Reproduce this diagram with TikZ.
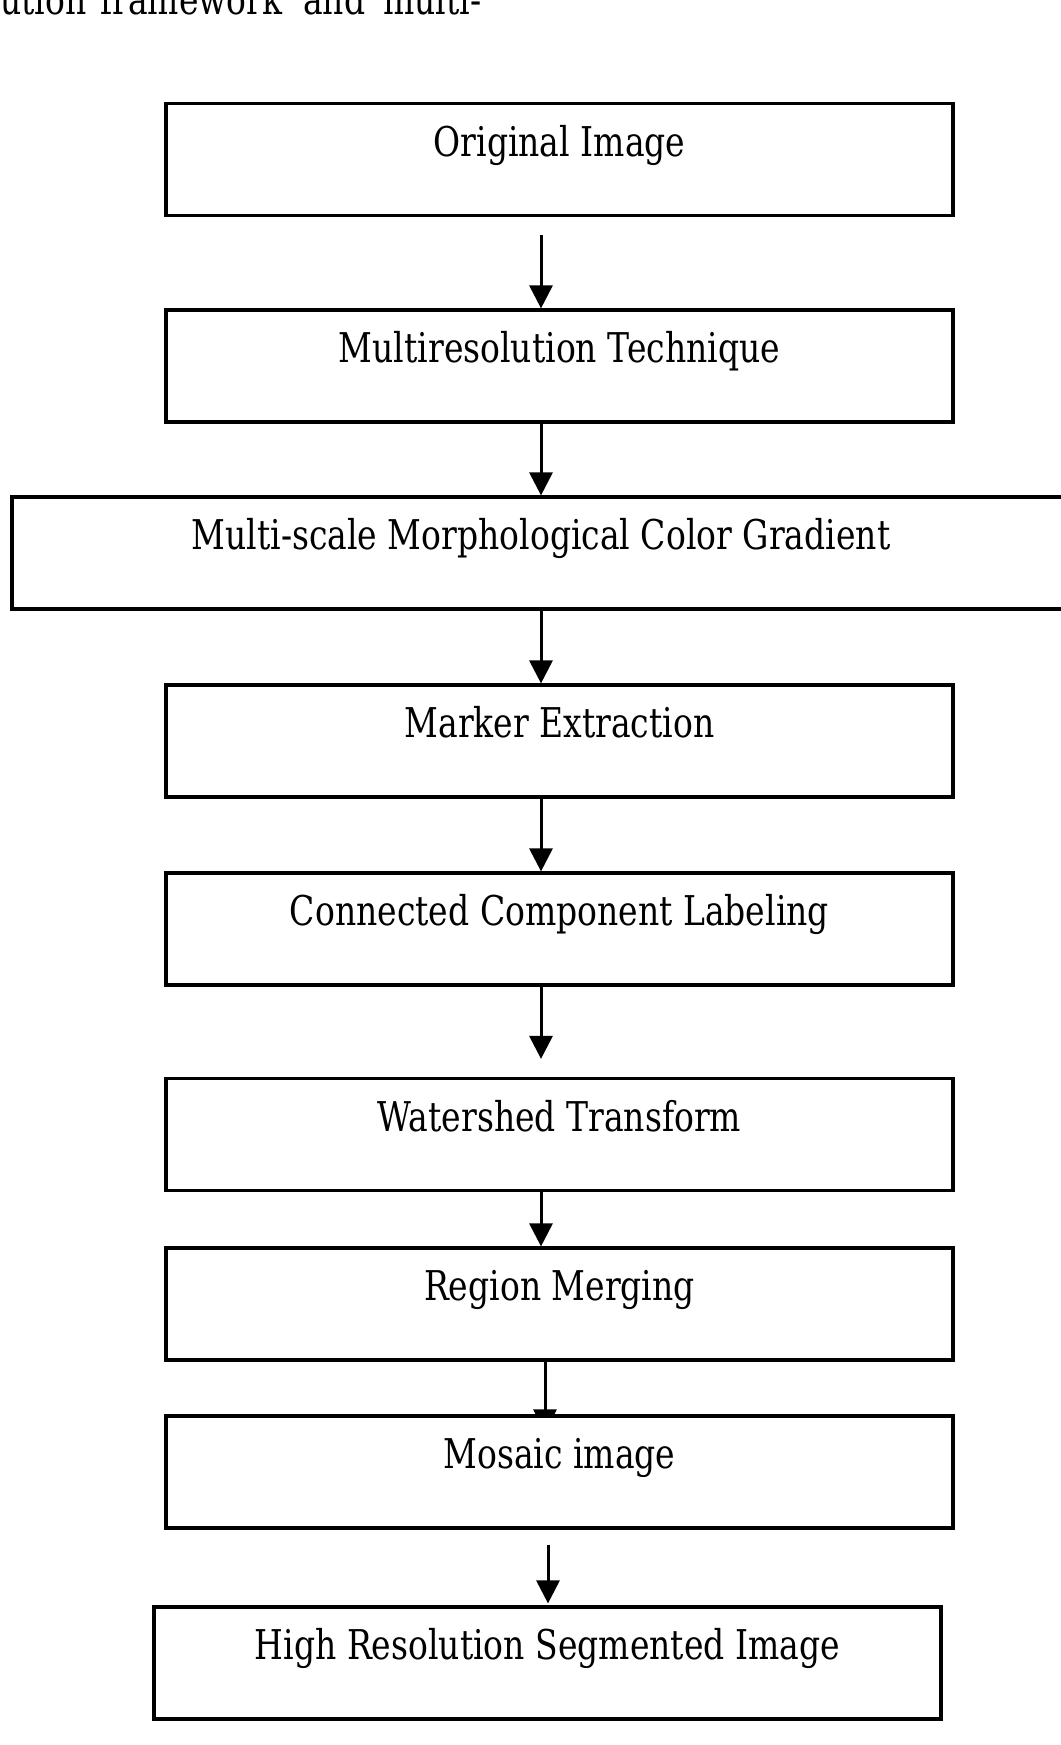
\documentclass[tikz,border=0pt]{standalone}
\usepackage{fontspec}
\setmainfont{DejaVu Serif}[FakeStretch=0.805]
\usetikzlibrary{arrows.meta}
\pgfdeclarelayer{background}
\pgfsetlayers{background,main}
\begin{document}
\begin{tikzpicture}[x=1pt,y=1pt,
  stepbox/.style={draw=black, line width=3.2pt, fill=white, rectangle, inner sep=0pt,
    minimum width=787pt, minimum height=112pt, text height=30pt, text depth=37pt,
    font=\fontsize{41}{49}\selectfont},
  arr/.style={draw=black, line width=3pt, -{Triangle[length=23pt,width=23pt]}}]
\useasboundingbox (0,0) rectangle (1060,-1745);
\node[anchor=base west, inner sep=0pt, font=\fontsize{41}{49}\selectfont] (top) at (0,-15)
  {\makebox[100pt][l]{ution}\makebox[203pt][l]{framework}\makebox[80pt][l]{and}multi-};
\node[stepbox] (b1) at (559.5,-159.5) {Original Image};
\node[stepbox] (b2) at (559.5,-366) {Multiresolution Technique};
\node[stepbox, minimum width=1058pt] (b3) at (541,-553) {Multi-scale Morphological Color Gradient};
\node[stepbox] (b4) at (559.5,-741) {Marker Extraction};
\node[stepbox] (b5) at (559.5,-929) {Connected Component Labeling};
\node[stepbox] (b6) at (559.5,-1134.5) {Watershed Transform};
\node[stepbox] (b7) at (559.5,-1304) {Region Merging};
\node[stepbox] (b8) at (559.5,-1472) {Mosaic image};
\node[stepbox] (b9) at (547.5,-1663) {High Resolution Segmented Image};
\begin{pgfonlayer}{background}
\draw[arr] ([xshift=-18.5pt,yshift=-18pt]b1.south) -- ([xshift=-18.5pt]b2.north);
\draw[arr] ([xshift=-18.5pt]b2.south) -- (b3.north);
\draw[arr] (b3.south) -- ([xshift=-18.5pt]b4.north);
\draw[arr] ([xshift=-18.5pt]b4.south) -- ([xshift=-18.5pt]b5.north);
\draw[arr] ([xshift=-18.5pt]b5.south) -- ([xshift=-18.5pt,yshift=18pt]b6.north);
\draw[arr] ([xshift=-18.5pt]b6.south) -- ([xshift=-18.5pt]b7.north);
\draw[arr] ([xshift=-14.5pt]b7.south) -- ([xshift=-14.5pt,yshift=-18pt]b8.north);
\draw[arr] ([xshift=-11.5pt,yshift=-15pt]b8.south) -- ([xshift=0.5pt,yshift=2pt]b9.north);
\end{pgfonlayer}
\end{tikzpicture}
\end{document}
